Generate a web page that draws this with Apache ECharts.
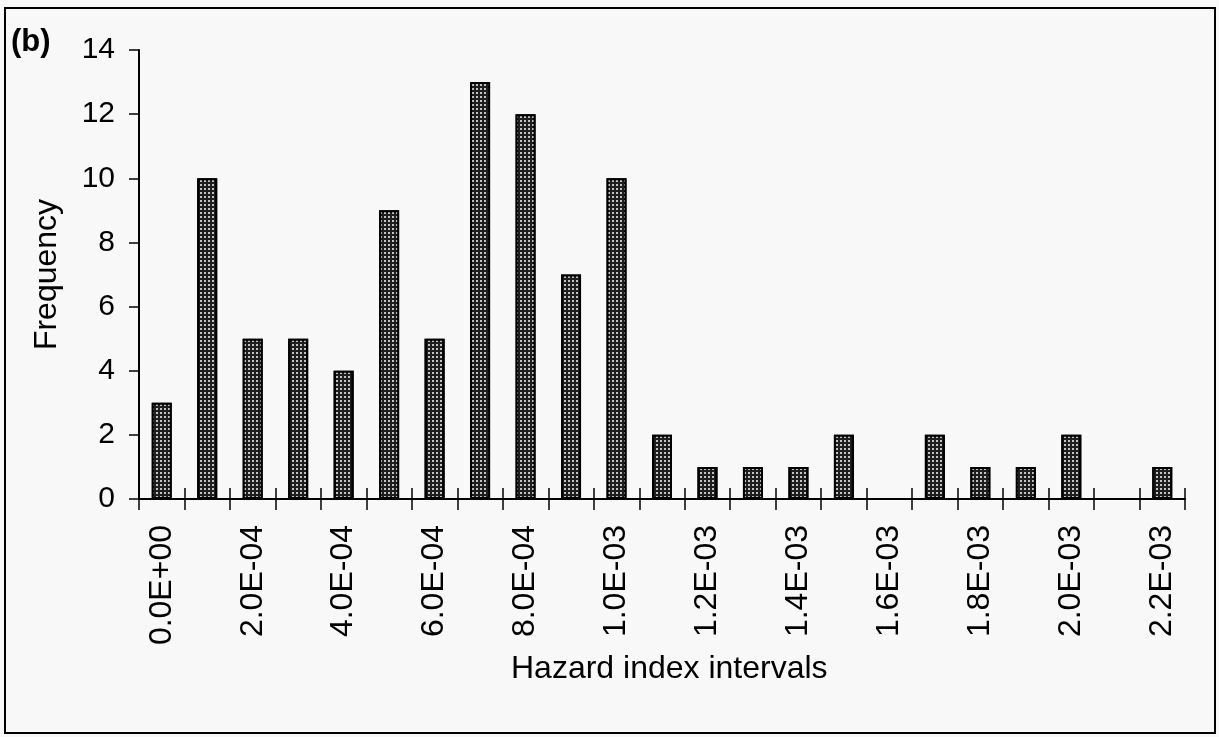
<!DOCTYPE html>
<html>
<head>
<meta charset="utf-8">
<script src="https://cdn.jsdelivr.net/npm/echarts@6/dist/echarts.min.js"></script>
<style>
  html, body { margin: 0; padding: 0; background: #f8f8f8; }
  #chart { width: 1219px; height: 737px; }
</style>
</head>
<body>
<div id="chart"></div>
<script>
const categories = ['0.0E+00','1.0E-04','2.0E-04','3.0E-04','4.0E-04','5.0E-04','6.0E-04','7.0E-04',
  '8.0E-04','9.0E-04','1.0E-03','1.1E-03','1.2E-03','1.3E-03','1.4E-03','1.5E-03','1.6E-03',
  '1.7E-03','1.8E-03','1.9E-03','2.0E-03','2.1E-03','2.2E-03'];
const frequency = [3,10,5,5,4,9,5,13,12,7,10,2,1,1,1,2,0,2,1,1,2,0,1];
const yTicks = [0,2,4,6,8,10,12,14];

const font = 'Liberation Sans, Arial, Helvetica, sans-serif';
const chart = echarts.init(document.getElementById('chart'));
chart.setOption({
  backgroundColor: '#f8f8f8',
  animation: false,
  grid: { left: 139, right: 34, top: 50, bottom: 238, containLabel: false },
  graphic: [
    { type: 'rect', shape: { x: 5, y: 8, width: 1210, height: 725 },
      style: { fill: 'none', stroke: '#000', lineWidth: 2 }, silent: true },
    { type: 'text', left: 11, top: 27,
      style: { text: '(b)', font: 'bold 31px ' + font, fill: '#000' } },
    { type: 'text', left: 511, top: 653,
      style: { text: 'Hazard index intervals', font: '32px ' + font, fill: '#000' } }
  ],
  xAxis: [
    {
      type: 'category', data: categories, position: 'bottom',
      axisLine: { show: true, lineStyle: { color: '#000', width: 2 } },
      axisTick: { show: true, length: 11, interval: 0, lineStyle: { color: '#000', width: 1.5 } },
      axisLabel: { interval: 1, rotate: 90, margin: 26, color: '#000', fontSize: 32, fontFamily: font },
      splitLine: { show: false }
    },
    {
      type: 'category', data: categories, position: 'bottom',
      axisLine: { show: false },
      axisTick: { show: true, inside: true, length: 11, interval: 0, lineStyle: { color: '#000', width: 1.5 } },
      axisLabel: { show: false },
      splitLine: { show: false }
    }
  ],
  yAxis: {
    type: 'value', min: yTicks[0], max: yTicks[yTicks.length - 1], interval: 2,
    name: 'Frequency', nameLocation: 'middle', nameGap: 76,
    nameTextStyle: { color: '#000', fontSize: 32, fontFamily: font },
    axisLine: { show: true, lineStyle: { color: '#000', width: 2 } },
    axisTick: { show: true, length: 10, lineStyle: { color: '#000', width: 1.5 } },
    axisLabel: { margin: 24, color: '#000', fontSize: 30, fontFamily: font },
    splitLine: { show: false }
  },
  series: [{
    type: 'bar', data: frequency, barWidth: 20, xAxisIndex: 0,
    itemStyle: {
      color: '#1e1e1e', borderColor: '#000', borderWidth: 2,
      decal: { symbol: 'rect', symbolSize: 1, color: 'rgba(225,225,225,0.85)',
               dashArrayX: [2, 2], dashArrayY: [2, 2], rotation: 0 }
    }
  }]
});
</script>
</body>
</html>
